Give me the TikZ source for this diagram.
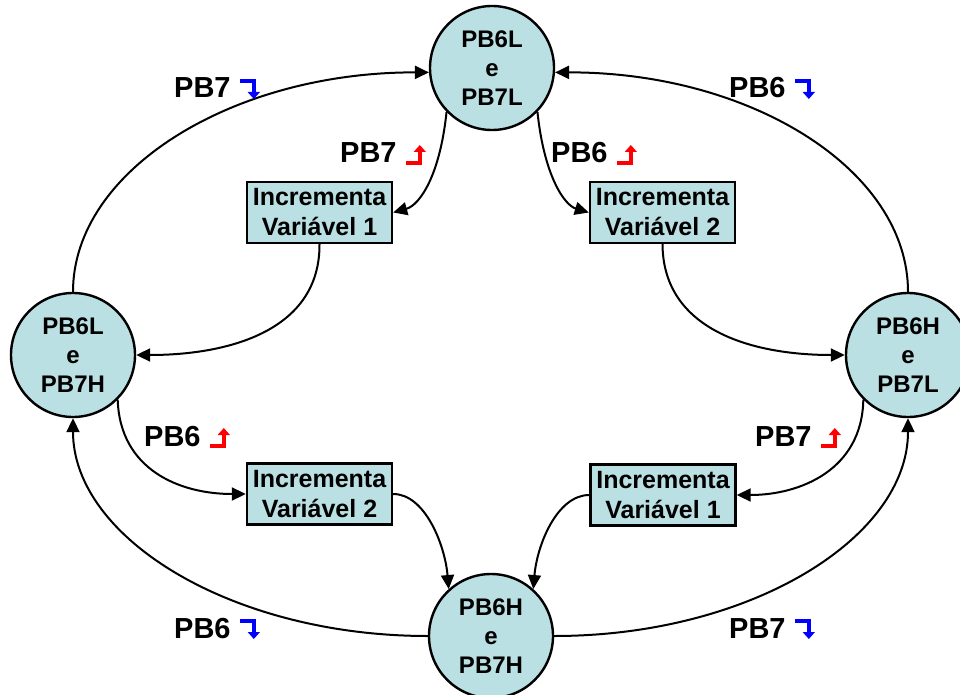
\documentclass[tikz,border=0pt]{standalone}
\usepackage{fontspec}
\setmainfont{Liberation Sans}
\usetikzlibrary{arrows.meta}

\definecolor{statefill}{RGB}{187,224,227}
\definecolor{risecol}{RGB}{255,0,0}
\definecolor{fallcol}{RGB}{0,0,255}

\tikzset{
  state/.style={circle, draw, line width=2.4pt, fill=statefill,
    minimum size=124pt, inner sep=0pt, align=center,
    font=\fontsize{24}{29}\selectfont\bfseries},
  task/.style={rectangle, draw, line width=2.4pt, fill=statefill,
    minimum width=145pt, minimum height=61pt, inner sep=0pt, align=center,
    font=\fontsize{25}{30}\selectfont\bfseries},
  flow/.style={line width=2pt, -{Triangle[length=14pt,width=13pt]}},
  pin/.style={anchor=base west, inner sep=0pt,
    font=\fontsize{29}{34}\selectfont\bfseries},
  fall/.pic={
    \draw[fallcol, line width=3.4pt, miter limit=10,
      -{Triangle[length=7pt,width=12pt]}]
      (0,-17) -- (14,-17) -- (14,1);
  },
  rise/.pic={
    \draw[risecol, line width=3.4pt, miter limit=10,
      -{Triangle[length=7pt,width=12pt]}]
      (0,0) -- (14,0) -- (14,-18);
  }
}

\begin{document}
\begin{tikzpicture}[x=1pt, y=-1pt]
\useasboundingbox (0,0) rectangle (960,695);

% states
\node[state] (top)   at (492,68)  {PB6L\\e\\PB7L};
\node[state] (left)  at (73,355)  {PB6L\\e\\PB7H};
\node[state] (right) at (908,355) {PB6H\\e\\PB7L};
\node[state] (bot)   at (491,636) {PB6H\\e\\PB7H};

% actions
\node[task] (b1) at (319.5,212.5) {Incrementa\\Variável 1};
\node[task] (b2) at (662.5,212.5) {Incrementa\\Variável 2};
\node[task] (b3) at (319.5,494)   {Incrementa\\Variável 2};
\node[task] (b4) at (663,495)     {Incrementa\\Variável 1};

% outer transitions
\draw[flow] (left.north) .. controls (73,170) and (233,72) .. (top.184);
\draw[flow] (right.north) .. controls (908,170) and (751,72) .. (top.-4);
\draw[flow] (bot.west) .. controls (232,636) and (73,538) .. (left.south);
\draw[flow] (bot.east) .. controls (750,636) and (908,538) .. (right.south);

% inner transitions
\draw[flow] (top.224) .. controls (440,175) and (420,205) .. (b1.east);
\draw[flow] (top.-44) .. controls (544,175) and (564,205) .. (b2.west);
\draw[flow] (b1.south) .. controls (320,330) and (230,355) .. (left.east);
\draw[flow] (b2.south) .. controls (663,330) and (752,355) .. (right.west);
\draw[flow] (left.-45) .. controls (120,470) and (180,494) .. (b3.west);
\draw[flow] (right.-135) .. controls (862,470) and (800,495) .. (b4.east);
\draw[flow] (b3.east) .. controls (425,494) and (445,545) .. (bot.132);
\draw[flow] (b4.west) .. controls (557,495) and (537,545) .. (bot.48);

% edge labels
\node[pin] (l1) at (174,98)  {PB7};
\node[pin] (l2) at (729,98)  {PB6};
\node[pin] (l3) at (340,163) {PB7};
\node[pin] (l4) at (551,163) {PB6};
\node[pin] (l5) at (144,446) {PB6};
\node[pin] (l6) at (755,446) {PB7};
\node[pin] (l7) at (174,638) {PB6};
\node[pin] (l8) at (729,638) {PB7};

\pic at ([xshift=9pt]l1.base east) {fall};
\pic at ([xshift=9pt]l2.base east) {fall};
\pic at ([xshift=9pt]l3.base east) {rise};
\pic at ([xshift=9pt]l4.base east) {rise};
\pic at ([xshift=9pt]l5.base east) {rise};
\pic at ([xshift=9pt]l6.base east) {rise};
\pic at ([xshift=9pt]l7.base east) {fall};
\pic at ([xshift=9pt]l8.base east) {fall};
\end{tikzpicture}
\end{document}
